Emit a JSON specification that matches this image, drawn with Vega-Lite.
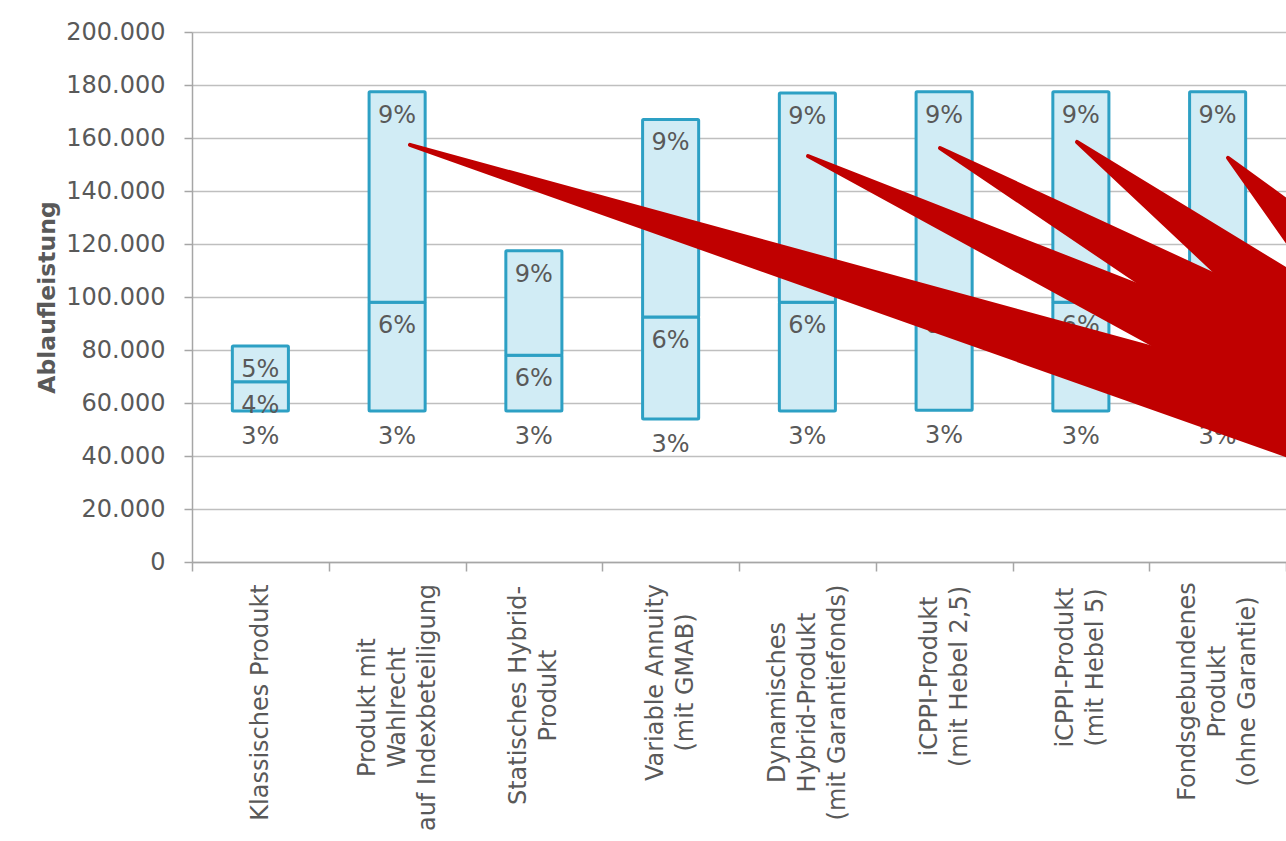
{
  "$schema": "https://vega.github.io/schema/vega-lite/v6.json",
  "width": 1094,
  "height": 530,
  "autosize": {"type": "none"},
  "padding": {"left": 192, "top": 32, "right": 0, "bottom": 279},
  "background": "white",
  "config": {"view": {"stroke": null}, "font": "DejaVu Sans"},
  "datasets": {
    "segments": [
      {"product": "Klassisches Produkt", "lo": 57000, "hi": 68000, "label": "4%"},
      {"product": "Klassisches Produkt", "lo": 68000, "hi": 81500, "label": "5%"},
      {"product": "Produkt mit|Wahlrecht|auf Indexbeteiligung", "lo": 57000, "hi": 98000, "label": "6%"},
      {"product": "Produkt mit|Wahlrecht|auf Indexbeteiligung", "lo": 98000, "hi": 177500, "label": "9%"},
      {"product": "Statisches Hybrid-|Produkt", "lo": 57000, "hi": 78000, "label": "6%"},
      {"product": "Statisches Hybrid-|Produkt", "lo": 78000, "hi": 117500, "label": "9%"},
      {"product": "Variable Annuity|(mit GMAB)", "lo": 54000, "hi": 92500, "label": "6%"},
      {"product": "Variable Annuity|(mit GMAB)", "lo": 92500, "hi": 167000, "label": "9%"},
      {"product": "Dynamisches|Hybrid-Produkt|(mit Garantiefonds)", "lo": 57000, "hi": 98000, "label": "6%"},
      {"product": "Dynamisches|Hybrid-Produkt|(mit Garantiefonds)", "lo": 98000, "hi": 177000, "label": "9%"},
      {"product": "iCPPI-Produkt|(mit Hebel 2,5)", "lo": 57300, "hi": 98000, "label": "6%"},
      {"product": "iCPPI-Produkt|(mit Hebel 2,5)", "lo": 98000, "hi": 177500, "label": "9%"},
      {"product": "iCPPI-Produkt|(mit Hebel 5)", "lo": 57000, "hi": 98000, "label": "6%"},
      {"product": "iCPPI-Produkt|(mit Hebel 5)", "lo": 98000, "hi": 177500, "label": "9%"},
      {"product": "Fondsgebundenes|Produkt|(ohne Garantie)", "lo": 57000, "hi": 98000, "label": "6%"},
      {"product": "Fondsgebundenes|Produkt|(ohne Garantie)", "lo": 98000, "hi": 177500, "label": "9%"}
    ],
    "bases": [
      {"product": "Klassisches Produkt", "value": 57000, "label": "3%"},
      {"product": "Produkt mit|Wahlrecht|auf Indexbeteiligung", "value": 57000, "label": "3%"},
      {"product": "Statisches Hybrid-|Produkt", "value": 57000, "label": "3%"},
      {"product": "Variable Annuity|(mit GMAB)", "value": 54000, "label": "3%"},
      {"product": "Dynamisches|Hybrid-Produkt|(mit Garantiefonds)", "value": 57000, "label": "3%"},
      {"product": "iCPPI-Produkt|(mit Hebel 2,5)", "value": 57300, "label": "3%"},
      {"product": "iCPPI-Produkt|(mit Hebel 5)", "value": 57000, "label": "3%"},
      {"product": "Fondsgebundenes|Produkt|(ohne Garantie)", "value": 57000, "label": "3%"}
    ],
    "wedges": [
      {"wedge": 1, "x": 1.594, "lo": 157400, "hi": 157400},
      {"wedge": 1, "x": 8.395, "lo": 33100, "hi": 61500},
      {"wedge": 2, "x": 4.505, "lo": 153200, "hi": 153200},
      {"wedge": 2, "x": 8.395, "lo": 43400, "hi": 74500},
      {"wedge": 3, "x": 5.47, "lo": 156200, "hi": 156200},
      {"wedge": 3, "x": 8.395, "lo": 54200, "hi": 86500},
      {"wedge": 4, "x": 6.472, "lo": 158500, "hi": 158500},
      {"wedge": 4, "x": 8.395, "lo": 65200, "hi": 98000},
      {"wedge": 5, "x": 7.576, "lo": 152500, "hi": 152500},
      {"wedge": 5, "x": 8.395, "lo": 92700, "hi": 121900}
    ]
  },
  "layer": [
    {
      "encoding": {
        "x": {
          "field": "product",
          "type": "nominal",
          "sort": null,
          "scale": {
            "domain": [
              "Klassisches Produkt",
              "Produkt mit|Wahlrecht|auf Indexbeteiligung",
              "Statisches Hybrid-|Produkt",
              "Variable Annuity|(mit GMAB)",
              "Dynamisches|Hybrid-Produkt|(mit Garantiefonds)",
              "iCPPI-Produkt|(mit Hebel 2,5)",
              "iCPPI-Produkt|(mit Hebel 5)",
              "Fondsgebundenes|Produkt|(ohne Garantie)"
            ],
            "paddingInner": 0,
            "paddingOuter": 0
          },
          "axis": {
            "title": null,
            "labelAngle": -90,
            "labelAlign": "center",
            "labelBaseline": "middle",
            "labelExpr": "split(datum.label, '|')",
            "labelFontSize": 24,
            "labelColor": "#595959",
            "labelLineHeight": 30,
            "labelOffset": {
              "condition": [
                {"test": "length(split(datum.value, '|')) == 3", "value": -30},
                {"test": "length(split(datum.value, '|')) == 2", "value": -15}
              ],
              "value": 0
            },
            "labelPadding": {
              "condition": [
                {"test": "datum.value == 'Klassisches Produkt'", "value": 131},
                {"test": "datum.value == 'Produkt mit|Wahlrecht|auf Indexbeteiligung'", "value": 136},
                {"test": "datum.value == 'Statisches Hybrid-|Produkt'", "value": 124},
                {"test": "datum.value == 'Variable Annuity|(mit GMAB)'", "value": 111},
                {"test": "datum.value == 'Dynamisches|Hybrid-Produkt|(mit Garantiefonds)'", "value": 131},
                {"test": "datum.value == 'iCPPI-Produkt|(mit Hebel 2,5)'", "value": 105},
                {"test": "datum.value == 'iCPPI-Produkt|(mit Hebel 5)'", "value": 96}
              ],
              "value": 120
            },
            "tickBand": "extent",
            "tickSize": 9,
            "tickColor": "#A6A6A6",
            "tickWidth": 1.5,
            "domainColor": "#A6A6A6",
            "domainWidth": 1.5,
            "labelLimit": 400
          }
        }
      },
      "layer": [
        {
          "data": {"name": "segments"},
          "mark": {"type": "bar", "fill": "#D1ECF5", "stroke": "#2DA0C4", "strokeWidth": 3, "cornerRadius": 1, "width": {"band": 0.41}},
          "encoding": {
            "y": {
              "field": "lo",
              "type": "quantitative",
              "title": "Ablaufleistung",
              "scale": {"domain": [0, 200000], "nice": false},
              "axis": {
                "values": [0, 20000, 40000, 60000, 80000, 100000, 120000, 140000, 160000, 180000, 200000],
                "labelExpr": "replace(format(datum.value, ','), ',', '.')",
                "labelFontSize": 24,
                "labelColor": "#595959",
                "labelPadding": 19,
                "tickSize": 8,
                "tickColor": "#A6A6A6",
                "tickWidth": 1.5,
                "domainColor": "#A6A6A6",
                "domainWidth": 1.5,
                "grid": true,
                "gridColor": "#BFBFBF",
                "gridWidth": 1.5,
                "titleFontSize": 23.5,
                "titleFontWeight": "bold",
                "titleColor": "#595959",
                "titleAngle": 270,
                "titleX": -145,
                "titleY": 265,
                "titleAlign": "center",
                "titleBaseline": "middle"
              }
            },
            "y2": {"field": "hi"}
          }
        },
        {
          "data": {"name": "segments"},
          "mark": {"type": "text", "fontSize": 24, "color": "#595959", "baseline": "middle", "dy": 24},
          "encoding": {
            "y": {"field": "hi", "type": "quantitative", "title": "Ablaufleistung"},
            "text": {"field": "label"}
          }
        },
        {
          "data": {"name": "bases"},
          "mark": {"type": "text", "fontSize": 24, "color": "#595959", "baseline": "middle", "dy": 26},
          "encoding": {
            "y": {"field": "value", "type": "quantitative", "title": "Ablaufleistung"},
            "text": {"field": "label"}
          }
        }
      ]
    },
    {
      "data": {"name": "wedges"},
      "mark": {"type": "area", "color": "#C00000", "stroke": "#C00000", "strokeWidth": 4, "strokeJoin": "round", "clip": true},
      "encoding": {
        "x": {"field": "x", "type": "quantitative", "scale": {"domain": [0, 8], "nice": false, "zero": false}, "axis": null},
        "y": {"field": "lo", "type": "quantitative", "title": "Ablaufleistung"},
        "y2": {"field": "hi"},
        "detail": {"field": "wedge"}
      }
    }
  ],
  "resolve": {"scale": {"x": "independent"}}
}
